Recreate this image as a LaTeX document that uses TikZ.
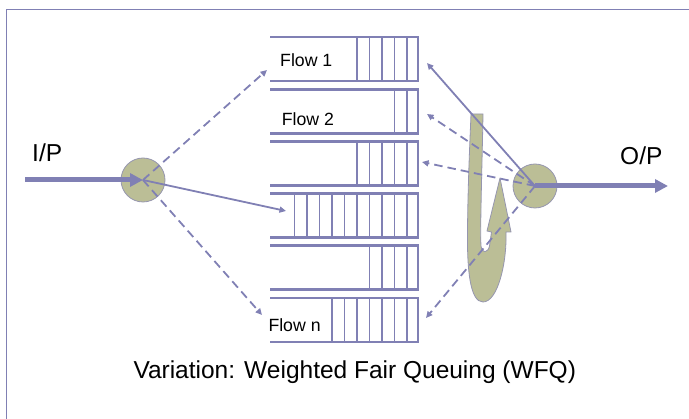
\documentclass[tikz,border=0pt]{standalone}
\usepackage{fontspec}
\setmainfont{Liberation Sans}
\usetikzlibrary{arrows.meta}
\definecolor{lav}{RGB}{128,128,180}
\definecolor{olive}{RGB}{187,190,150}
\definecolor{rim}{RGB}{150,150,175}
\begin{document}
\begin{tikzpicture}[x=1pt,y=-1pt,
  frameline/.style={lav, line width=1.3pt},
  qline/.style={lav, line width=2.9pt},
  pkt/.style={lav, line width=1.1pt},
  hub/.style={circle, fill=olive, draw=rim, line width=0.8pt, minimum size=44pt, inner sep=0pt},
  swoosh/.style={fill=olive, draw=rim, line width=0.8pt, line join=round},
  thinarrow/.style={lav, line width=1.8pt, -{Triangle[length=6.5pt,width=6pt]}},
  dasharrow/.style={thinarrow, dash pattern=on 8.5pt off 5pt},
  fatarrow/.style={lav, line width=5pt, -{Triangle[length=13pt,width=13pt]}},
  flowlbl/.style={inner sep=0pt, anchor=base west, font=\fontsize{17.7}{20}\selectfont},
  biglbl/.style={inner sep=0pt, anchor=base west, font=\fontsize{24.5}{28}\selectfont}]
\useasboundingbox (0,0) rectangle (689,419);

% slide frame
\draw[frameline] (6.5,419) -- (6.5,9.3) -- (689,9.3);

% six queues: packet separators, then the queue walls
\foreach \i/\n in {0/5,1/2,2/5,3/10,4/4,5/7}{
  \pgfmathsetmacro\qt{37+52.2*\i}
  \pgfmathsetmacro\qb{\qt+44}
  \foreach \k in {1,...,\n}{
    \draw[pkt] ({419.5-12.5*\k},\qt) -- ({419.5-12.5*\k},\qb);
  }
  \draw[qline] (270,\qt) -- (418,\qt) -- (418,\qb) -- (270,\qb);
}

% queue labels
\node[flowlbl] (f1) at (280,66.7) {Flow 1};
\node[flowlbl] (f2) at (281.7,126) {Flow 2};
\node[flowlbl] (fn) at (268.3,331.7) {Flow n};

% scheduler sweep arrow
\draw[swoosh] (471,114) -- (483,114)
  .. controls (482,170) and (480,230) .. (481,246)
  .. controls (482,254) and (488,253) .. (489.5,246)
  -- (491.5,232) -- (487,231) -- (500,178) -- (511,232) -- (506,232)
  .. controls (507,262) and (498,302) .. (483,302)
  .. controls (470,302) and (467,270) .. (467.5,230)
  .. controls (468,180) and (470,140) .. (471,114) -- cycle;

% classifier and scheduler hubs
\node[hub] (in) at (143,180) {};
\node[hub] (out) at (535,186) {};

% queue entry and exit points
\coordinate (ip) at (25,180);
\coordinate (op) at (668,186);
\coordinate (q1w) at (267,70);
\coordinate (q4w) at (286,211);
\coordinate (q6w) at (262,315);
\coordinate (q1e) at (427,63);
\coordinate (q2e) at (427,114);
\coordinate (q3e) at (422,162);
\coordinate (q6e) at (426,318);

% input side
\draw[fatarrow] (ip) -- (in.center);
\draw[dasharrow] (in.center) -- (q1w);
\draw[thinarrow] (in.center) -- (q4w);
\draw[dasharrow] (in.center) -- (q6w);

% output side
\draw[thinarrow] (out.center) -- (q1e);
\draw[dasharrow] (out.center) -- (q2e);
\draw[dasharrow] (out.center) -- (q3e);
\draw[dasharrow] (out.center) -- (q6e);
\draw[fatarrow] (out.center) -- (op);

% texts
\node[biglbl] (iplbl) at (32,162) {I/P};
\node[biglbl] (oplbl) at (620,165) {O/P};
\node[biglbl] (caption) at (133.3,378.3) {Variation: Weighted Fair Queuing (WFQ)};
\end{tikzpicture}
\end{document}
